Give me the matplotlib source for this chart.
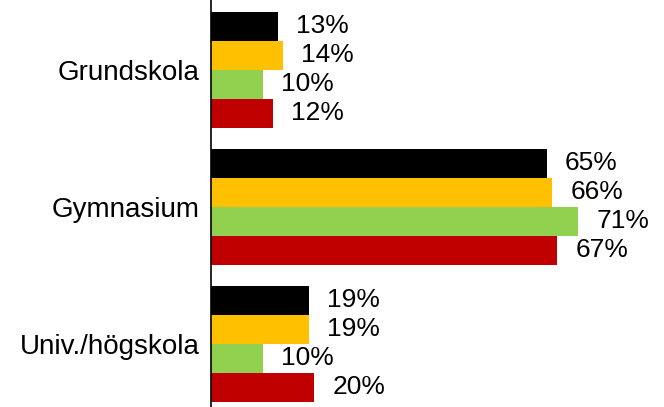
import matplotlib.pyplot as plt
import numpy as np

plt.rcParams["font.family"] = ["Liberation Sans", "DejaVu Sans"]

categories = ["Grundskola", "Gymnasium", "Univ./högskola"]
series_a = [13, 65, 19]
series_b = [14, 66, 19]
series_c = [10, 71, 10]
series_d = [12, 67, 20]
colors = ["#000000", "#FFC000", "#92D050", "#C00000"]

fig = plt.figure(figsize=(6.64, 4.07), dpi=100)
ax = fig.add_axes([211 / 664, 0.0, 1 - 211 / 664, 1.0])

bar_h = 0.212
y = np.arange(len(categories))
for i, (vals, col) in enumerate(zip([series_a, series_b, series_c, series_d], colors)):
    pos = y + (i - 1.5) * bar_h
    bars = ax.barh(pos, vals, height=bar_h, color=col)
    for b, v in zip(bars, vals):
        ax.annotate(f"{v}%", (b.get_width(), b.get_y() + b.get_height() / 2),
                    xytext=(13, 0), textcoords="offset points",
                    ha="left", va="center", fontsize=19)

ax.set_xlim(0, 453 / 5.17)
ax.set_ylim(2 + 63.5 / 137, -70 / 137)
ax.set_yticks(y)
ax.set_yticklabels(categories, fontsize=20)
ax.tick_params(axis="y", length=0, pad=8)
ax.set_xticks([])
for side in ["top", "right", "bottom"]:
    ax.spines[side].set_visible(False)
ax.spines["left"].set_linewidth(1.2)

fig.savefig("out.png", dpi=100)
